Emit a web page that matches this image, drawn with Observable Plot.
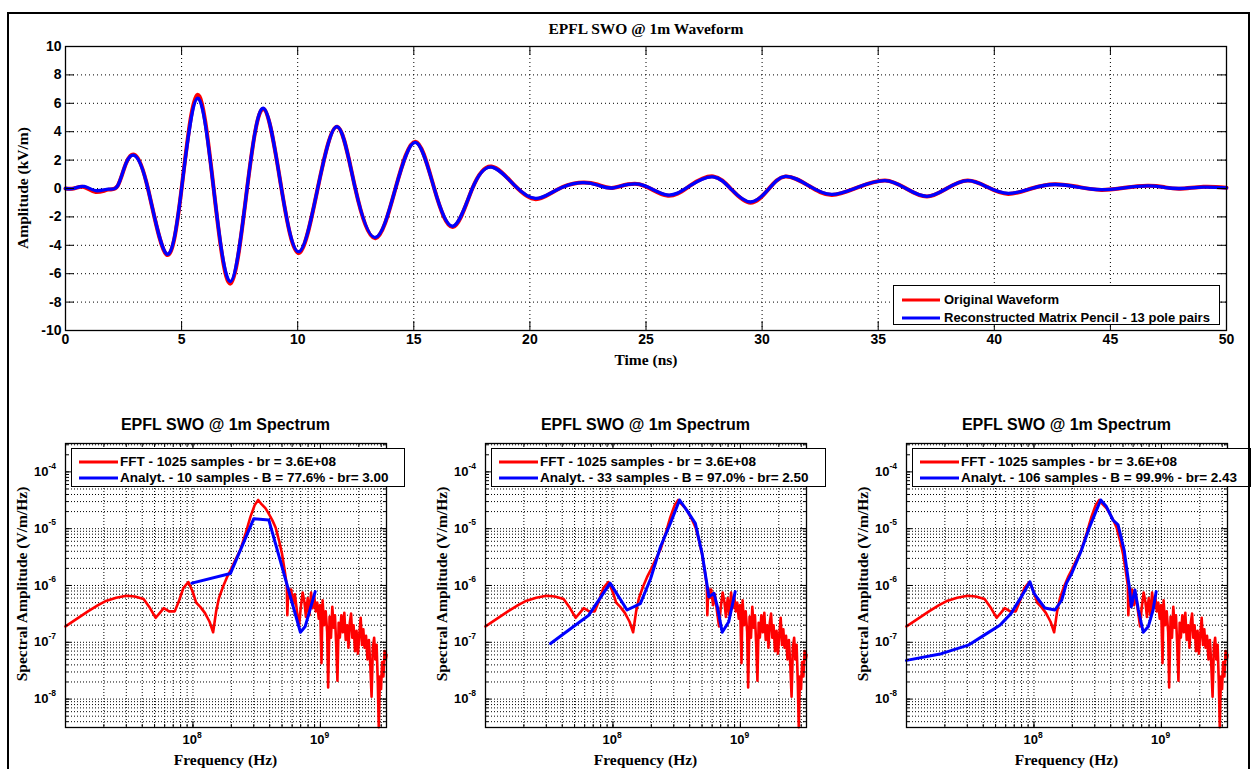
<!DOCTYPE html>
<html><head><meta charset="utf-8">
<script src="https://cdn.jsdelivr.net/npm/d3@7"></script>
<script src="https://cdn.jsdelivr.net/npm/@observablehq/plot@0.6"></script>
<style>
html,body{margin:0;padding:0;background:#fff;}
body{width:1253px;height:769px;overflow:hidden;position:relative;font-family:"Liberation Sans",Arial,sans-serif;}
.abs{position:absolute;}
.ctr{position:absolute;transform:translate(-50%,-50%);white-space:nowrap;}
.serif{font-family:"Liberation Serif","Times New Roman",serif;font-weight:bold;color:#000;}
.sans{font-family:"Liberation Sans",Arial,sans-serif;font-weight:bold;color:#000;}
.rot{transform:translate(-50%,-50%) rotate(-90deg);}
.legend{position:absolute;background:#fff;border:1.3px solid #000;box-sizing:border-box;}
.legend .row{position:absolute;left:0;white-space:nowrap;font-family:"Liberation Sans",Arial,sans-serif;font-weight:bold;color:#000;transform:translateY(-50%);}
.legend .sw{display:inline-block;vertical-align:middle;height:3px;}
#frame{position:absolute;left:7px;top:12px;width:1243px;height:800px;border:2px solid #000;box-sizing:border-box;pointer-events:none;}
</style></head><body>
<div id="top" class="abs" style="left:0;top:0"></div>
<div id="p1" class="abs" style="left:0;top:400px"></div>
<div id="p2" class="abs" style="left:420px;top:400px"></div>
<div id="p3" class="abs" style="left:841px;top:400px"></div>
<div id="labels"></div>
<div id="frame"></div>
<script>
// ---------------- Waveform data (time in ns, amplitude in kV/m) ----------------
const waveTime = [0, 0.35, 0.8, 1.3, 1.85, 2.25, 2.6, 3.0, 3.55, 4.35, 5.0, 5.68, 6.38, 7.1, 7.82, 8.53, 9.3, 10.05, 10.86, 11.7, 12.48, 13.35, 14.21, 15.07, 15.88, 16.7, 17.52, 18.35, 19.35, 20.25, 21.15, 22.1, 22.9, 23.6, 24.7, 25.9, 26.9, 27.9, 28.7, 29.5, 30.25, 31.0, 32.0, 33.0, 34.15, 35.3, 36.2, 37.1, 37.95, 38.85, 39.7, 40.6, 41.6, 42.6, 43.6, 44.6, 45.6, 46.6, 47.3, 48.0, 49.0, 50.0];
const waveReconstructed = [0.0, 0.0, 0.15, -0.15, -0.05, 0.2, 1.75, 2.3, 0.0, -4.6, 0.0, 6.35, 0.0, -6.55, 0.0, 5.65, 0.0, -4.45, 0.0, 4.35, 0.0, -3.45, 0.0, 3.25, 0.0, -2.65, 0.0, 1.5, 0.2, -0.7, -0.1, 0.4, 0.25, 0.05, 0.3, -0.45, 0.2, 0.82, -0.1, -0.95, -0.1, 0.85, 0.2, -0.42, 0.1, 0.55, 0.0, -0.55, 0.0, 0.55, 0.1, -0.35, 0.0, 0.28, 0.1, -0.08, 0.05, 0.18, 0.08, 0.0, 0.1, 0.05];
const waveOriginal = [0.0, 0.0, 0.1, -0.25, -0.08, 0.2, 1.75, 2.35, 0.0, -4.65, 0.0, 6.6, 0.0, -6.7, 0.0, 5.6, 0.0, -4.55, 0.0, 4.35, 0.0, -3.5, 0.0, 3.3, 0.0, -2.7, 0.0, 1.55, 0.2, -0.75, -0.1, 0.4, 0.28, 0.05, 0.3, -0.5, 0.2, 0.85, -0.1, -1.0, -0.1, 0.85, 0.2, -0.45, 0.1, 0.57, 0.0, -0.57, 0.0, 0.57, 0.1, -0.38, 0.0, 0.3, 0.12, -0.1, 0.05, 0.2, 0.1, -0.02, 0.12, 0.05];
const timeTicks = [0, 5, 10, 15, 20, 25, 30, 35, 40, 45, 50];
const amplitudeTicks = [-10, -8, -6, -4, -2, 0, 2, 4, 6, 8, 10];

// ---------------- Spectrum data (Hz, V/m/Hz) ----------------
const fftFreq = [1.0e7, 1.2e7, 1.5e7, 1.8e7, 2.1e7, 2.5e7, 3.0e7, 3.5e7, 4.1e7, 4.6e7, 5.1e7, 5.5e7, 5.9e7, 6.5e7, 7.2e7, 7.8e7, 8.4e7, 9.2e7, 9.9e7, 1.06e8, 1.14e8, 1.24e8, 1.35e8, 1.44e8, 1.52e8, 1.6e8, 1.72e8, 1.85e8, 1.97e8, 2.15e8, 2.36e8, 2.6e8, 2.82e8, 3.05e8, 3.25e8, 3.45e8, 3.7e8, 3.9e8, 4.2e8, 4.45e8, 4.75e8, 5.0e8, 5.25e8, 5.45e8, 5.5e8, 5.6e8, 5.75e8, 5.9e8, 6.1e8, 6.3e8, 6.55e8, 6.8e8, 7.0e8, 7.25e8, 7.5e8, 7.7e8, 7.95e8, 8.2e8, 8.45e8, 8.7e8, 8.95e8, 9.2e8, 9.45e8, 9.7e8, 9.95e8, 1.02e9, 1.04e9, 1.07e9, 1.1e9, 1.13e9, 1.15e9, 1.18e9, 1.21e9, 1.24e9, 1.27e9, 1.3e9, 1.33e9, 1.36e9, 1.39e9, 1.42e9, 1.46e9, 1.5e9, 1.54e9, 1.58e9, 1.62e9, 1.66e9, 1.7e9, 1.74e9, 1.78e9, 1.82e9, 1.87e9, 1.92e9, 1.97e9, 2.02e9, 2.07e9, 2.12e9, 2.17e9, 2.22e9, 2.28e9, 2.34e9, 2.4e9, 2.46e9, 2.52e9, 2.58e9, 2.64e9, 2.7e9, 2.76e9, 2.82e9, 2.87e9, 2.93e9, 2.99e9, 3.05e9, 3.12e9, 3.19e9, 3.26e9, 3.3e9];
const fftAmp = [1.9e-7, 2.5e-7, 3.5e-7, 4.5e-7, 5.4e-7, 6.1e-7, 6.6e-7, 6.4e-7, 5.8e-7, 4.0e-7, 2.7e-7, 3.3e-7, 4.0e-7, 3.5e-7, 3.5e-7, 5.5e-7, 9.0e-7, 1.15e-6, 8.0e-7, 5.0e-7, 4.2e-7, 3.3e-7, 2.3e-7, 1.5e-7, 3.5e-7, 6.0e-7, 9.5e-7, 1.4e-6, 1.85e-6, 2.8e-6, 4.3e-6, 8.5e-6, 1.6e-5, 2.6e-5, 3.2e-5, 2.7e-5, 2.3e-5, 1.9e-5, 1.4e-5, 1.05e-5, 6.0e-6, 3.6e-6, 1.8e-6, 1.0e-6, 3.0e-7, 9.0e-7, 6.0e-7, 8.5e-7, 4.5e-7, 7.0e-7, 3.5e-7, 1.9e-7, 4.0e-7, 7.5e-7, 5.0e-7, 2.8e-7, 6.0e-7, 3.0e-7, 7.5e-7, 4.0e-7, 6.5e-7, 3.5e-7, 5.0e-7, 2.6e-7, 4.5e-7, 4.3e-8, 5.5e-7, 2.0e-7, 3.5e-7, 1.5e-7, 1.6e-8, 2.8e-7, 1.2e-7, 4.2e-7, 1.8e-7, 3.0e-7, 9.0e-8, 2.1e-8, 2.2e-7, 1.2e-7, 3.0e-7, 1.5e-7, 3.3e-7, 1.1e-7, 2.0e-7, 8.0e-8, 2.2e-7, 3.2e-7, 1.2e-7, 2.0e-7, 7.0e-8, 1.6e-7, 6.3e-8, 1.4e-7, 2.7e-7, 9.0e-8, 1.7e-7, 8.0e-8, 1.3e-7, 5.0e-8, 1.1e-7, 4.2e-8, 1.1e-8, 8.0e-8, 1.2e-7, 5.0e-8, 9.0e-8, 2.0e-8, 3.2e-9, 2.5e-8, 1.5e-8, 4.5e-8, 2.5e-8, 7.0e-8, 5.0e-8, 6.0e-8];

const analyt10Freq = [9.8e7, 1.97e8, 3.0e8, 3.94e8, 6.97e8, 7.6e8, 9.1e8];
const analyt10Amp  = [1.1e-6, 1.63e-6, 1.5e-5, 1.42e-5, 1.5e-7, 1.9e-7, 7.8e-7];

const analyt33Freq = [3.24e7, 6.46e7, 9.5e7, 1.29e8, 1.64e8, 1.97e8, 2.36e8, 2.82e8, 3.33e8, 3.8e8, 4.43e8, 5.0e8, 5.4e8, 5.66e8, 6.2e8, 6.6e8, 7.2e8, 8.1e8, 9.1e8];
const analyt33Amp  = [9.5e-8, 3.0e-7, 1.1e-6, 3.7e-7, 4.8e-7, 1.3e-6, 4.8e-6, 1.24e-5, 3.2e-5, 2.1e-5, 1.24e-5, 3.7e-6, 1.24e-6, 6.3e-7, 7.3e-7, 4.2e-7, 1.5e-7, 2.3e-7, 7.8e-7];

const analyt106Freq = [1.0e7, 1.88e7, 3.05e7, 4.1e7, 5.4e7, 6.6e7, 7.95e7, 9.0e7, 9.3e7, 1.0e8, 1.07e8, 1.22e8, 1.46e8, 1.65e8, 1.8e8, 1.97e8, 2.36e8, 2.74e8, 3.1e8, 3.34e8, 3.7e8, 4.17e8, 4.57e8, 5.1e8, 5.5e8, 5.6e8, 5.8e8, 6.2e8, 6.6e8, 7.2e8, 7.9e8, 8.6e8, 9.1e8];
const analyt106Amp  = [4.8e-8, 6.3e-8, 8.9e-8, 1.35e-7, 2.0e-7, 3.2e-7, 6.3e-7, 1.02e-6, 1.16e-6, 7.3e-7, 5.9e-7, 4.0e-7, 3.7e-7, 5.5e-7, 1.1e-6, 1.6e-6, 4.2e-6, 1.09e-5, 2.14e-5, 3.2e-5, 2.45e-5, 1.42e-5, 1.17e-5, 4.2e-6, 1.24e-6, 9.5e-7, 4.2e-7, 8.3e-7, 3.7e-7, 1.5e-7, 1.9e-7, 3.7e-7, 7.8e-7];

const freqTicks = [1e8, 1e9];
const freqTickExp = ["8", "9"];
const ampTicks = [1e-8, 1e-7, 1e-6, 1e-5, 1e-4];
const ampTickExp = ["-8", "-7", "-6", "-5", "-4"];

const topTitle = "EPFL SWO @ 1m Waveform";
const topXLabel = "Time (ns)";
const topYLabel = "Amplitude (kV/m)";
const topLegend = ["Original Waveform", "Reconstructed Matrix Pencil - 13 pole pairs"];
const specTitle = "EPFL SWO @ 1m Spectrum";
const specXLabel = "Frequency (Hz)";
const specYLabel = "Spectral Amplitude (V/m/Hz)";
const specLegends = [
  ["FFT - 1025 samples - br = 3.6E+08", "Analyt. - 10 samples - B = 77.6% - br= 3.00"],
  ["FFT - 1025 samples - br = 3.6E+08", "Analyt. - 33 samples - B = 97.0% - br= 2.50"],
  ["FFT - 1025 samples - br = 3.6E+08", "Analyt. - 106 samples - B = 99.9% - br= 2.43"]
];
const RED = "#ff0000", BLUE = "#0000ff";

// ---------------- Top waveform plot ----------------
const PWt = 1161, PHt = 284;
const dots = {stroke: "#000", strokeOpacity: 1, strokeWidth: 1, strokeDasharray: "1,3"};
const topRows = waveTime.map((t, i) => ({t, o: waveOriginal[i], r: waveReconstructed[i]}));
const baseStyle = {fontFamily: "'Liberation Sans', Arial, sans-serif", fontSize: "13px", fontWeight: "bold", color: "#000", background: "transparent", overflow: "visible"};

const topPlot = Plot.plot({
  width: 1253, height: 372,
  marginLeft: 65, marginRight: 27, marginTop: 46, marginBottom: 42,
  x: {domain: [0, 50], label: null, axis: null},
  y: {domain: [-10, 10], label: null, axis: null},
  style: baseStyle,
  marks: [
    Plot.gridX(timeTicks, dots),
    Plot.gridY(amplitudeTicks, dots),
    Plot.line(topRows, {x: "t", y: "o", stroke: RED, strokeWidth: 4, curve: "natural"}),
    Plot.line(topRows, {x: "t", y: "r", stroke: BLUE, strokeWidth: 3.3, curve: "natural"}),
    Plot.frame({stroke: "#000", strokeWidth: 1.3}),
    Plot.tickX(timeTicks, {x: d => d, insetTop: PHt - 9, stroke: "#000"}),
    Plot.tickX(timeTicks, {x: d => d, insetBottom: PHt - 9, stroke: "#000"}),
    Plot.tickY(amplitudeTicks, {y: d => d, insetRight: PWt - 9, stroke: "#000"}),
    Plot.tickY(amplitudeTicks, {y: d => d, insetLeft: PWt - 9, stroke: "#000"}),
    Plot.text(timeTicks, {x: d => d, frameAnchor: "bottom", dy: 13, text: d => String(d), fontSize: 14}),
    Plot.text(amplitudeTicks, {y: d => d, frameAnchor: "left", dx: -4, textAnchor: "end", text: d => String(d), fontSize: 14})
  ]
});
document.getElementById("top").appendChild(topPlot);

// ---------------- Spectrum panels ----------------
const freqDomain = [1e7, 3.3e9];
const ampDomain = [3.16e-9, 3.16e-4];
const PW = 321, PH = 284;
const xMinor = d3.scaleLog().domain(freqDomain).ticks(40);
const yMinor = d3.scaleLog().domain(ampDomain).ticks(40);
const redRows = fftFreq.map((f, i) => ({f, a: fftAmp[i]}));

function spectrum(bf, ba) {
  const blueRows = bf.map((f, i) => ({f, a: ba[i]}));
  return Plot.plot({
    width: 410, height: 369,
    marginLeft: 65, marginRight: 24, marginTop: 43, marginBottom: 42,
    x: {type: "log", domain: freqDomain, label: null, axis: null},
    y: {type: "log", domain: ampDomain, label: null, axis: null},
    style: baseStyle,
    marks: [
      Plot.gridX(xMinor, {...dots, strokeDasharray: "1,2"}),
      Plot.gridY(yMinor, {...dots, strokeDasharray: "1,2"}),
      Plot.line(redRows, {x: "f", y: "a", stroke: RED, strokeWidth: 2.6}),
      Plot.line(blueRows, {x: "f", y: "a", stroke: BLUE, strokeWidth: 3}),
      Plot.frame({stroke: "#000", strokeWidth: 1.3}),
      Plot.tickX(xMinor, {x: d => d, insetTop: PH - 3, stroke: "#000"}),
      Plot.tickX(xMinor, {x: d => d, insetBottom: PH - 3, stroke: "#000"}),
      Plot.tickY(yMinor, {y: d => d, insetRight: PW - 3, stroke: "#000"}),
      Plot.tickY(yMinor, {y: d => d, insetLeft: PW - 3, stroke: "#000"}),
      Plot.tickX(freqTicks, {x: d => d, insetTop: PH - 6, stroke: "#000"}),
      Plot.tickX(freqTicks, {x: d => d, insetBottom: PH - 6, stroke: "#000"}),
      Plot.tickY(ampTicks, {y: d => d, insetRight: PW - 6, stroke: "#000"}),
      Plot.tickY(ampTicks, {y: d => d, insetLeft: PW - 6, stroke: "#000"}),
      // y tick labels: "10" with superscript exponent
      Plot.text(ampTicks, {y: d => d, frameAnchor: "left", dx: -17, textAnchor: "end", text: () => "10", fontSize: 13}),
      Plot.text(ampTicks, {y: d => d, frameAnchor: "left", dx: -17, dy: -6, textAnchor: "start", text: (d, i) => ampTickExp[i], fontSize: 8.5}),
      // x tick labels
      Plot.text(freqTicks, {x: d => d, frameAnchor: "bottom", dx: 4, dy: 16, textAnchor: "end", text: () => "10", fontSize: 13}),
      Plot.text(freqTicks, {x: d => d, frameAnchor: "bottom", dx: 4, dy: 10, textAnchor: "start", text: (d, i) => freqTickExp[i], fontSize: 8.5})
    ]
  });
}
document.getElementById("p1").appendChild(spectrum(analyt10Freq, analyt10Amp));
document.getElementById("p2").appendChild(spectrum(analyt33Freq, analyt33Amp));
document.getElementById("p3").appendChild(spectrum(analyt106Freq, analyt106Amp));

// ---------------- Titles, axis labels, legends (HTML text) ----------------
const L = document.getElementById("labels");
function add(html) { L.insertAdjacentHTML("beforeend", html); }
add(`<div class="ctr serif" style="left:646px;top:29px;font-size:15.5px">${topTitle}</div>`);
add(`<div class="ctr serif" style="left:646px;top:360px;font-size:15.5px">${topXLabel}</div>`);
add(`<div class="ctr serif rot" style="left:23px;top:188px;font-size:15.5px">${topYLabel}</div>`);
add(`<div class="legend" style="left:893px;top:285px;width:327px;height:40px">
  <div class="row" style="top:13px;left:8px;font-size:13px"><span class="sw" style="width:38px;background:${RED};margin-right:4px"></span>${topLegend[0]}</div>
  <div class="row" style="top:31px;left:8px;font-size:13px"><span class="sw" style="width:38px;background:${BLUE};margin-right:4px"></span>${topLegend[1]}</div>
</div>`);
const panelLefts = [65, 485, 906];
const legendWidths = [334, 335, 339];
panelLefts.forEach((pl, k) => {
  const cx = pl + PW / 2;
  add(`<div class="ctr sans" style="left:${cx}px;top:425px;font-size:16px">${specTitle}</div>`);
  add(`<div class="ctr serif" style="left:${cx}px;top:760px;font-size:15.5px">${specXLabel}</div>`);
  add(`<div class="ctr serif rot" style="left:${pl - 43}px;top:584px;font-size:15.5px">${specYLabel}</div>`);
  add(`<div class="legend" style="left:${pl + 6}px;top:448px;width:${legendWidths[k]}px;height:39px">
    <div class="row" style="top:12px;left:7px;font-size:13.5px"><span class="sw" style="width:39px;background:${RED};margin-right:2px"></span>${specLegends[k][0]}</div>
    <div class="row" style="top:28px;left:7px;font-size:13.5px"><span class="sw" style="width:39px;background:${BLUE};margin-right:2px"></span>${specLegends[k][1]}</div>
  </div>`);
});
</script>
</body></html>
